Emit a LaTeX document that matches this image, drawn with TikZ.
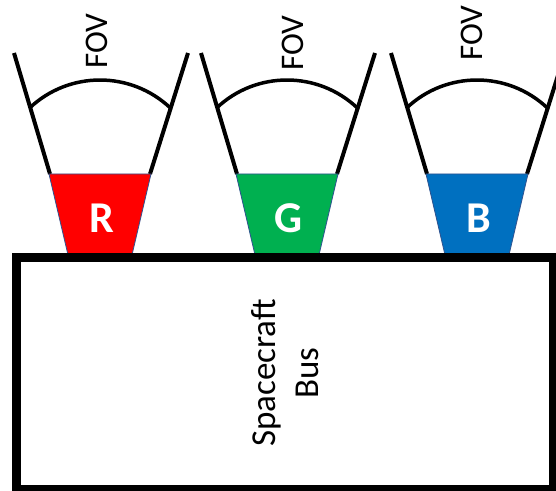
\documentclass[tikz,border=0pt]{standalone}
\usepackage{fontspec}
\setmainfont{Carlito}
\definecolor{sensR}{HTML}{FF0000}
\definecolor{sensG}{HTML}{00B050}
\definecolor{sensB}{HTML}{0070C0}
\definecolor{edgeblue}{HTML}{2F528F}
\tikzset{
  cone/.style={line width=4pt, black},
  fovarc/.style={line width=3.5pt, black},
  sensor/.style={draw=edgeblue, line width=0.8pt},
  bandlabel/.style={text=white, font=\fontsize{44}{50}\selectfont\bfseries, inner sep=0pt},
  fovlabel/.style={rotate=90, font=\fontsize{33}{38}\selectfont, inner sep=0pt},
  buslabel/.style={rotate=90, align=center, font=\fontsize{35}{43}\selectfont, inner sep=0pt},
  busbox/.style={draw=black, line width=8.5pt}
}
\begin{document}
\begin{tikzpicture}[x=1pt,y=1pt]
  \useasboundingbox (0,0) rectangle (556,490);
  % one camera per colour band: centre x, colour, letter, FOV label position
  \foreach \cx/\col/\lab/\fx/\fy/\name in
      {100/sensR/R/97/449/r, 287/sensG/G/293/447/g, 477/sensB/B/472/457/b}{
    % field-of-view cone
    \draw[cone] (\cx-50,316) -- (\cx-86,437);
    \draw[cone] (\cx+50,316) -- (\cx+88,437);
    \draw[fovarc] (\cx,307.5) ++(133.4:102.5) arc[start angle=133.4, end angle=46.6, radius=102.5];
    \node[fovlabel] (fov\name) at (\fx,\fy) {FOV};
    % sensor body
    \fill[\col] (\cx-51,316) -- (\cx+51,316) -- (\cx+31.5,233) -- (\cx-31.5,233) -- cycle;
    \draw[sensor] (\cx-51,316) -- (\cx+51,316) -- (\cx+31.5,233) -- (\cx-31.5,233) -- cycle;
    \node[bandlabel] (band\name) at (\cx+2,272) {\lab};
  }
  % spacecraft bus
  \draw[busbox] (16.5,232.3) rectangle (553,0.5);
  \node[buslabel] (bus) at (285,117) {Spacecraft\\Bus};
\end{tikzpicture}
\end{document}
